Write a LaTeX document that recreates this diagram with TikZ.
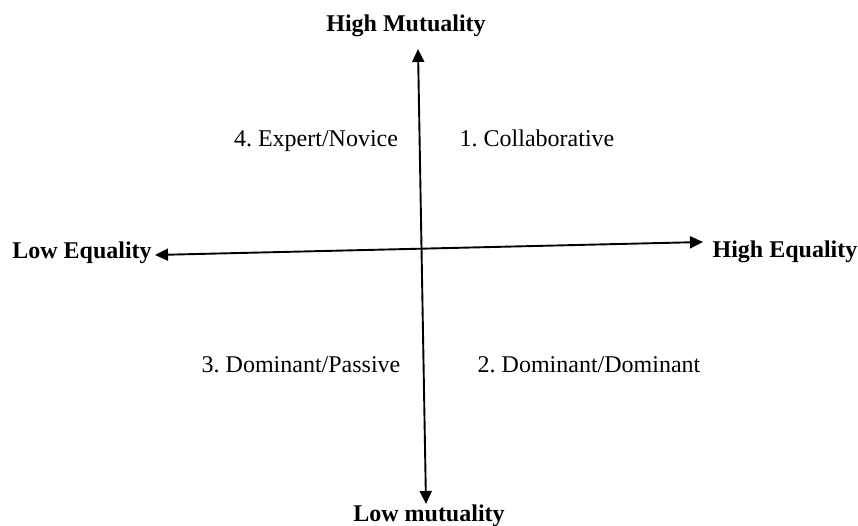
\documentclass[tikz,border=0pt]{standalone}
\usepackage{fontspec}
\setmainfont{Liberation Serif}
\usetikzlibrary{arrows.meta}
\frenchspacing

\tikzset{
  axisline/.style={line width=1.9pt,
    {Triangle[length=13pt,width=12pt]}-{Triangle[length=13pt,width=12pt]}},
  pole/.style={font=\fontsize{24}{28}\selectfont\bfseries, anchor=base, inner sep=0pt},
  quad/.style={font=\fontsize{24}{28}\selectfont, anchor=base, inner sep=0pt},
}

\begin{document}
\begin{tikzpicture}[x=1pt,y=-1pt]
	\useasboundingbox (0,0) rectangle (858,526);
	% axis ends
	\coordinate (top) at (418,49);
	\coordinate (bottom) at (426,504);
	\coordinate (left) at (155,255);
	\coordinate (right) at (703,242);
	\draw[axisline] (top) -- (bottom);
	\draw[axisline] (left) -- (right);
	% poles
	\node[pole] (highmut) at (406,32) {High Mutuality};
	\node[pole] (lowmut) at (429,521) {Low mutuality};
	\node[pole] (loweq) at (82,259) {Low Equality};
	\node[pole] (higheq) at (785,258) {High Equality};
	% quadrants
	\foreach \name/\x/\y/\txt in {collab/537/147/{1. Collaborative},
			domdom/589/372/{2. Dominant/Dominant},
			dompas/301/372/{3. Dominant/Passive},
			expnov/316/147/{4. Expert/Novice}} {
		\node[quad] (\name) at (\x,\y) {\txt};
	}
\end{tikzpicture}
\end{document}
